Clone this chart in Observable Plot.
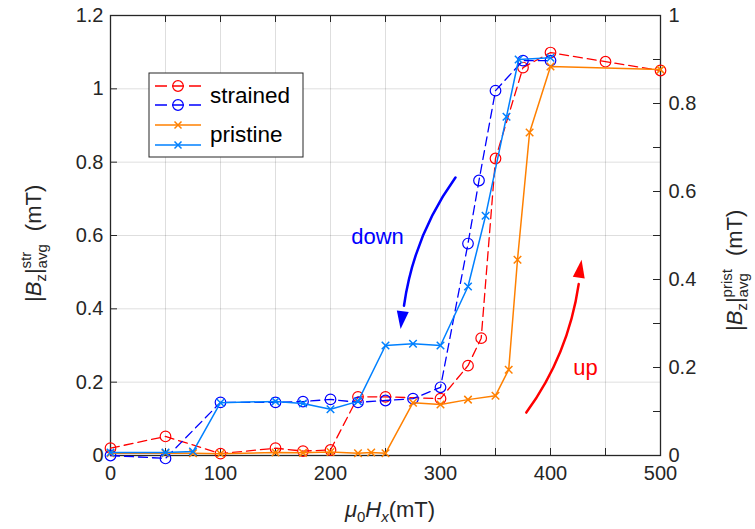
<!DOCTYPE html>
<html><head><meta charset="utf-8">
<script src="https://cdn.jsdelivr.net/npm/d3@7"></script>
<script src="https://cdn.jsdelivr.net/npm/@observablehq/plot@0.6"></script>
<style>body{margin:0;background:#fff}</style>
</head><body><div id="chart"></div>
<script>
// Strained sample (left axis, mT)
const strainedUpX   = [0, 50, 100, 150, 175, 200, 225, 250, 300, 325, 337, 350, 375, 400, 450, 500];
const strainedUpY   = [0.02, 0.052, 0.005, 0.02, 0.012, 0.015, 0.16, 0.16, 0.155, 0.245, 0.32, 0.81, 1.058, 1.099, 1.074, 1.05];
const strainedDownX = [0, 50, 100, 150, 175, 200, 225, 250, 275, 300, 325, 335, 350, 375, 400];
const strainedDownY = [0.0, -0.008, 0.145, 0.145, 0.147, 0.153, 0.145, 0.15, 0.155, 0.186, 0.578, 0.75, 0.995, 1.077, 1.077];
// Pristine sample (right axis, mT)
const pristineUpX   = [0, 50, 75, 100, 150, 175, 200, 225, 237, 250, 275, 300, 325, 350, 362, 370, 381, 400, 500];
const pristineUpY   = [0.005, 0.005, 0.005, 0.004, 0.007, 0.006, 0.008, 0.005, 0.007, 0.005, 0.12, 0.116, 0.127, 0.136, 0.195, 0.445, 0.734, 0.884, 0.877];
const pristineDownX = [0, 50, 75, 100, 150, 175, 200, 225, 250, 275, 300, 325, 341, 360, 371, 400];
const pristineDownY = [0.007, 0.007, 0.009, 0.12, 0.123, 0.118, 0.105, 0.123, 0.25, 0.254, 0.25, 0.384, 0.545, 0.77, 0.9, 0.904];

const xTicks = [0, 100, 200, 300, 400, 500];
const xMinor = [0, 50, 100, 150, 200, 250, 300, 350, 400, 450, 500];
const leftTicks = [0, 0.2, 0.4, 0.6, 0.8, 1, 1.2];
const rightTicks = [0, 0.2, 0.4, 0.6, 0.8, 1];
const rightMinor = [0, 0.1, 0.2, 0.3, 0.4, 0.5, 0.6, 0.7, 0.8, 0.9, 1];

// annotations (data coordinates, left axis)
const arrows = [
  {x1: 313.6, y1: 0.758, x2: 265.5, y2: 0.376, color: "#0000ff", rot: 187},
  {x1: 378, y1: 0.117, x2: 427, y2: 0.50, color: "#ff0000", rot: 9}
];
const notes = [
  {x: 242.7, y: 0.597, text: "down", color: "#0000ff"},
  {x: 431.8, y: 0.24, text: "up", color: "#ff0000"}
];

const K = 1.2; // right-axis full range maps onto left-axis full range
const zip = (xs, ys) => xs.map((x, i) => ({x, y: ys[i]}));
const sUp = zip(strainedUpX, strainedUpY);
const sDown = zip(strainedDownX, strainedDownY);
const pUp = zip(pristineUpX, pristineUpY);
const pDown = zip(pristineDownX, pristineDownY);
const fmt = v => String(+v.toFixed(3));

const RED = "#ff0000", BLUE = "#0000ff", ORANGE = "#ff8000", LBLUE = "#0080ff";
const TXT = "#262626";
const FONT = "Liberation Sans, Arial, Helvetica, sans-serif";
const innerH = 529 - 15 - 74, innerW = 755 - 110 - 95;

// elongated filled arrowhead, tip 12px ahead of its anchor
const HEAD = {draw(ctx) { ctx.moveTo(0, -12); ctx.lineTo(6, 6); ctx.lineTo(-6, 6); ctx.closePath(); }};

const chart = Plot.plot({
  width: 755, height: 529,
  marginLeft: 110, marginRight: 95, marginTop: 15, marginBottom: 74,
  x: {domain: [0, 500]},
  y: {domain: [0, 1.2]},
  style: {fontFamily: FONT, fontSize: "20px", color: TXT, background: "#fff"},
  marks: [
    Plot.gridX(xMinor, {stroke: "#000", strokeOpacity: 0.13}),
    Plot.gridY(leftTicks, {stroke: "#000", strokeOpacity: 0.13}),
    Plot.tickX(xMinor, {x: d => d, insetTop: innerH - 7, stroke: TXT}),
    Plot.tickX(xMinor, {x: d => d, insetBottom: innerH - 7, stroke: TXT}),
    Plot.tickY(leftTicks, {y: d => d, insetRight: innerW - 7, stroke: TXT}),
    Plot.tickY(rightMinor, {y: d => d * K, insetLeft: innerW - 7, stroke: TXT}),
    Plot.axisX({ticks: xTicks, anchor: "bottom", tickSize: 0, tickPadding: 10, fontSize: 20, tickFormat: d => String(d), label: null}),
    Plot.axisY({ticks: leftTicks, anchor: "left", tickSize: 0, tickPadding: 7, fontSize: 20, tickFormat: fmt, label: null}),
    Plot.axisY({ticks: rightTicks.map(v => v * K), anchor: "right", tickSize: 0, tickPadding: 8, fontSize: 20, tickFormat: d => fmt(d / K), label: null}),
    Plot.frame({stroke: TXT, strokeWidth: 1.3}),
    // strained
    Plot.line(sUp, {x: "x", y: "y", stroke: RED, strokeWidth: 1.3, strokeDasharray: "9,5"}),
    Plot.dot(sUp, {x: "x", y: "y", r: 5.3, stroke: RED, fill: "none", strokeWidth: 1.2}),
    Plot.line(sDown, {x: "x", y: "y", stroke: BLUE, strokeWidth: 1.3, strokeDasharray: "9,5"}),
    Plot.dot(sDown, {x: "x", y: "y", r: 5.3, stroke: BLUE, fill: "none", strokeWidth: 1.2}),
    // pristine (right axis)
    Plot.line(pUp, {x: "x", y: d => d.y * K, stroke: ORANGE, strokeWidth: 1.5}),
    Plot.dot(pUp, {x: "x", y: d => d.y * K, r: 3.5, symbol: "times", stroke: ORANGE, strokeWidth: 1.5}),
    Plot.line(pDown, {x: "x", y: d => d.y * K, stroke: LBLUE, strokeWidth: 1.5}),
    Plot.dot(pDown, {x: "x", y: d => d.y * K, r: 3.5, symbol: "times", stroke: LBLUE, strokeWidth: 1.5}),
    // annotations
    Plot.arrow(arrows, {x1: "x1", y1: "y1", x2: "x2", y2: "y2", stroke: "color", bend: -15, strokeWidth: 2.5, headLength: 0, insetEnd: 12}),
    Plot.dot(arrows, {x: "x2", y: "y2", symbol: HEAD, r: 6, fill: "color", stroke: "none", rotate: "rot",
      dx: d => -12 * Math.sin(d.rot * Math.PI / 180), dy: d => 12 * Math.cos(d.rot * Math.PI / 180)}),
    Plot.text(notes, {x: "x", y: "y", text: "text", fill: "color", fontSize: 22, fontFamily: FONT})
  ]
});
document.getElementById("chart").appendChild(chart);

const svg = d3.select(chart);

// rich-text label helper: pieces laid out left to right from the start point
function richLabel(x0, y0, rotate, pieces) {
  const g = svg.append("g").attr("fill", TXT).attr("text-anchor", "start").style("font-family", FONT);
  let x = 0;
  for (const p of pieces) {
    if (p.gap) { x += p.gap; continue; }
    if (p.stack) {
      const a = g.append("text").attr("x", x).attr("y", p.supDy).style("font-size", p.size + "px").text(p.sup);
      const b = g.append("text").attr("x", x).attr("y", p.subDy).style("font-size", p.size + "px").text(p.sub);
      x += Math.max(a.node().getComputedTextLength(), b.node().getComputedTextLength());
    } else {
      const t = g.append("text").attr("x", x).attr("y", p.dy || 0)
        .style("font-size", (p.size || 22) + "px").style("font-style", p.italic ? "italic" : "normal").text(p.t);
      x += t.node().getComputedTextLength() + (p.after || 0);
    }
  }
  g.attr("transform", `translate(${x0},${y0}) rotate(${rotate})` + (rotate === 0 ? ` translate(${-x / 2},0)` : ""));
}

richLabel(41, 302, -90, [
  {t: "|"}, {t: "B", italic: true}, {t: "z", size: 15, dy: 5}, {t: "|"},
  {stack: true, sup: "str", sub: "avg", size: 15, supDy: -10, subDy: 6}, {gap: 13}, {t: "(mT)"}
]);
richLabel(742, 331, -90, [
  {t: "|"}, {t: "B", italic: true}, {t: "z", size: 15, dy: 5}, {t: "|"},
  {stack: true, sup: "prist", sub: "avg", size: 15, supDy: -10, subDy: 6}, {gap: 13}, {t: "(mT)"}
]);
richLabel(390, 517, 0, [
  {t: "μ", italic: true}, {t: "0", size: 15, dy: 5}, {t: "H", italic: true}, {t: "x", size: 15, dy: 5, italic: true}, {t: "(mT)"}
]);

// legend
const lg = svg.append("g").attr("text-anchor", "start");
lg.append("rect").attr("x", 149).attr("y", 73).attr("width", 154).attr("height", 84)
  .attr("fill", "#fff").attr("stroke", TXT).attr("stroke-width", 1);
const rows = [
  {y: 86, color: RED, dashed: true},
  {y: 105, color: BLUE, dashed: true},
  {y: 125, color: ORANGE, dashed: false},
  {y: 145, color: LBLUE, dashed: false}
];
for (const r of rows) {
  lg.append("line").attr("x1", 155).attr("x2", 201).attr("y1", r.y).attr("y2", r.y)
    .attr("stroke", r.color).attr("stroke-width", r.dashed ? 1.3 : 1.5)
    .attr("stroke-dasharray", r.dashed ? "12,5" : null);
  if (r.dashed) {
    lg.append("circle").attr("cx", 178).attr("cy", r.y).attr("r", 5.3).attr("fill", "none")
      .attr("stroke", r.color).attr("stroke-width", 1.2);
  } else {
    lg.append("path").attr("d", `M174.5,${r.y - 3.5}L181.5,${r.y + 3.5}M174.5,${r.y + 3.5}L181.5,${r.y - 3.5}`)
      .attr("stroke", r.color).attr("stroke-width", 1.5);
  }
}
lg.append("text").attr("x", 210).attr("y", 103).attr("fill", "#000").style("font-family", FONT).style("font-size", "22.5px").text("strained");
lg.append("text").attr("x", 210).attr("y", 142).attr("fill", "#000").style("font-family", FONT).style("font-size", "22.5px").text("pristine");
</script>
</body></html>
